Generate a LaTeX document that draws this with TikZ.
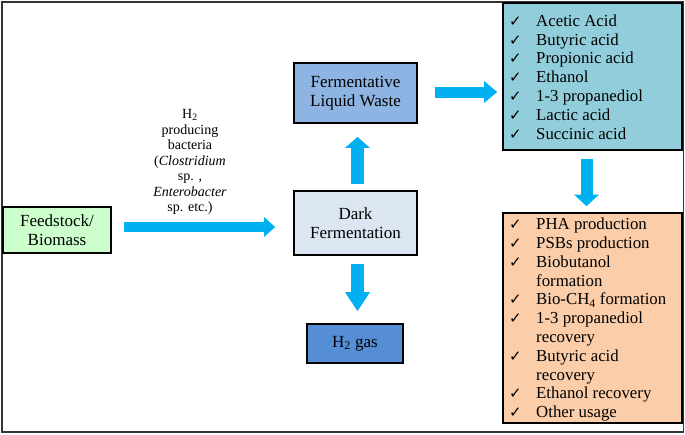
\documentclass[tikz,border=0pt]{standalone}
\usepackage{fontspec}
\setmainfont{Liberation Serif}
\newfontfamily\symf{DejaVu Sans}
\usetikzlibrary{arrows.meta,calc}

\definecolor{arrowc}{HTML}{00B0F0}
\definecolor{feedc}{HTML}{CCFFCC}
\definecolor{fermc}{HTML}{8DB4E2}
\definecolor{darkc}{HTML}{DCE6F2}
\definecolor{gasc}{HTML}{558ED5}
\definecolor{acidc}{HTML}{92CDDC}
\definecolor{usec}{HTML}{FBCDA8}
\definecolor{framec}{HTML}{333333}

\newcommand\chk{\makebox[27pt][l]{{\symf\fontsize{15}{15}\selectfont ✓}}}

\begin{document}
\begin{tikzpicture}[x=1pt,y=-1pt,
  box/.style={draw=black, line width=1.8pt, inner sep=0pt, align=center,
    font=\fontsize{17}{18.5}\selectfont},
  listtext/.style={anchor=west, inner sep=0pt, align=left,
    font=\fontsize{16.8}{18.8}\selectfont},
  blockarrow/.style={draw=arrowc, line width=#1},
]
\useasboundingbox (0,0) rectangle (685,434);
\node[draw=framec, line width=1.5pt, minimum width=681.5pt, minimum height=430pt, inner sep=0pt] (frame) at (342.5,216.8) {};

% boxes
\node[box, fill=feedc, minimum width=108pt, minimum height=46pt] (feed) at (57,230) {Feedstock/\\Biomass};
\node[box, fill=fermc, minimum width=123pt, minimum height=60pt] (ferm) at (355.5,93) {Fermentative\\Liquid Waste};
\node[box, fill=darkc, minimum width=123pt, minimum height=64pt] (dark) at (355.5,223) {Dark\\Fermentation};
\node[box, fill=gasc, minimum width=96pt, minimum height=39pt] (gas) at (355,343.5) {H\textsubscript{2} gas};
\node[box, fill=acidc, minimum width=179pt, minimum height=147pt] (acids) at (592.5,76.5) {};
\node[box, fill=usec, minimum width=179pt, minimum height=210pt] (uses) at (592.5,318) {};

% list texts
\node[listtext] (acidlist) at (509,79) {\renewcommand{\arraystretch}{1}\begin{tabular}{@{}l@{}l@{}}
\chk & Acetic Acid\\
\chk & Butyric acid\\
\chk & Propionic acid\\
\chk & Ethanol\\
\chk & 1-3 propanediol\\
\chk & Lactic acid\\
\chk & Succinic acid
\end{tabular}};
\node[listtext] (uselist) at (509,320) {\renewcommand{\arraystretch}{1}\begin{tabular}{@{}l@{}l@{}}
\chk & PHA production\\
\chk & PSBs production\\
\chk & Biobutanol\\
     & formation\\
\chk & Bio-CH\textsubscript{4} formation\\
\chk & 1-3 propanediol\\
     & recovery\\
\chk & Butyric acid\\
     & recovery\\
\chk & Ethanol recovery\\
\chk & Other usage
\end{tabular}};

% label
\node[align=center, inner sep=0pt, font=\fontsize{14}{15.5}\selectfont] (bact) at (190,162)
  {H\textsubscript{2}\\producing\\bacteria\\(\textit{Clostridium}\\sp. ,\\\textit{Enterobacter}\\sp. etc.)};

% block arrows
\draw[blockarrow=10pt, -{Triangle[width=20pt,length=11pt,line width=0pt]}]
  ($(feed.east)+(12,-3)$) -- ($(dark.west)+(-18,4)$);
\draw[blockarrow=13pt, -{Triangle[width=25pt,length=11pt,line width=0pt]}]
  ($(dark.north)+(2,-6)$) -- ($(ferm.south)+(2,13)$);
\draw[blockarrow=13pt, -{Triangle[width=25pt,length=19pt,line width=0pt]}]
  ($(dark.south)+(2,8)$) -- ($(gas.north)+(2.5,-12)$);
\draw[blockarrow=11pt, -{Triangle[width=22pt,length=13pt,line width=0pt]}]
  ($(ferm.east)+(17,-1)$) -- ($(ferm.east -| acids.west)+(-5,-1)$);
\draw[blockarrow=12pt, -{Triangle[width=25pt,length=11.5pt,line width=0pt]}]
  ($(acids.south)+(-6,8)$) -- ($(uses.north)+(-6,-6)$);
\end{tikzpicture}
\end{document}
